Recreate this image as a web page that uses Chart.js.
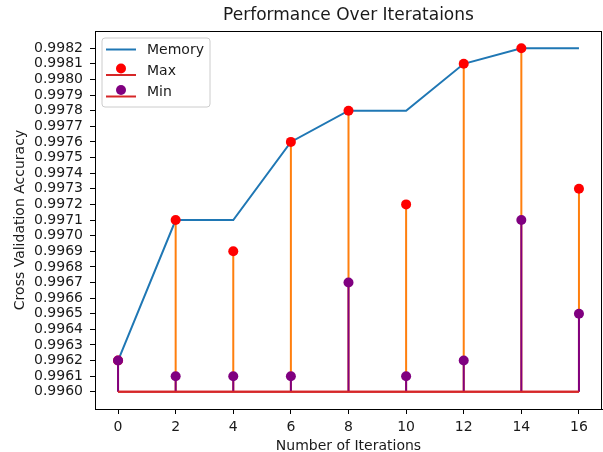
<!DOCTYPE html>
<html><head><meta charset="utf-8">
<script src="https://cdn.jsdelivr.net/npm/chart.js@4"></script>
<style>html,body{margin:0;padding:0;background:#fff;}#wrap{width:603px;height:452px;}</style>
</head><body><div id="wrap"><canvas id="c" width="603" height="452"></canvas></div>
<script>
const chartTitle = 'Performance Over Iterataions';
const xTitle = 'Number of Iterations';
const yTitle = 'Cross Validation Accuracy';
const iterations = [0, 2, 4, 6, 8, 10, 12, 14, 16];
const memory = [0.9962, 0.9971, 0.9971, 0.9976, 0.9978, 0.9978, 0.9981, 0.9982, 0.9982];
const maxAcc = [0.9962, 0.9971, 0.9969, 0.9976, 0.9978, 0.9972, 0.9981, 0.9982, 0.9973];
const minAcc = [0.9962, 0.9961, 0.9961, 0.9961, 0.9967, 0.9961, 0.9962, 0.9971, 0.9965];
const stemBase = 0.9960;
const xTicks = [0, 2, 4, 6, 8, 10, 12, 14, 16];
const yTickLabels = ['0.9960','0.9961','0.9962','0.9963','0.9964','0.9965','0.9966','0.9967','0.9968','0.9969','0.9970','0.9971','0.9972','0.9973','0.9974','0.9975','0.9976','0.9977','0.9978','0.9979','0.9980','0.9981','0.9982'];
const legendLabels = ['Memory', 'Max', 'Min'];

const FONT = 'DejaVu Sans';
const TXT = '#1a1a1a';
const C_BLUE = '#1f77b4', C_ORANGE = '#ff7f0e', C_BASE = '#d62728', C_RED = '#ff0000', C_PURPLE = '#800080';

function stemSegments(vals) {
  const out = [];
  iterations.forEach((x, i) => { out.push({x, y: stemBase}, {x, y: vals[i]}, {x, y: NaN}); });
  return out;
}
function points(vals) { return iterations.map((x, i) => ({x, y: vals[i]})); }
const baseline = [{x: iterations[0], y: stemBase}, {x: iterations[iterations.length - 1], y: stemBase}];

const lineDs = (label, data, color, width, order) => ({
  label, data, showLine: true, borderColor: color, borderWidth: width, pointRadius: 0,
  spanGaps: false, fill: false, order, tension: 0, borderCapStyle: 'butt'
});
const ptDs = (label, data, color, order) => ({
  label, data, showLine: false, pointRadius: 5, pointBackgroundColor: color, pointBorderColor: color,
  pointBorderWidth: 0, order, clip: false
});

const frameAndText = {
  id: 'frameAndText',
  afterDatasetsDraw(chart) {
    const ctx = chart.ctx, a = chart.chartArea;
    ctx.save();
    ctx.strokeStyle = '#000'; ctx.lineWidth = 1;
    ctx.beginPath();
    ctx.moveTo(a.left, a.top + 0.5); ctx.lineTo(a.right, a.top + 0.5);
    ctx.moveTo(a.right - 0.5, a.top); ctx.lineTo(a.right - 0.5, a.bottom);
    ctx.stroke();
    // title
    ctx.fillStyle = TXT;
    ctx.font = '17px "' + FONT + '"';
    ctx.textAlign = 'center'; ctx.textBaseline = 'middle';
    ctx.fillText(chartTitle, (a.left + a.right) / 2, 16);
    // legend
    const bx = 102, by = 38, bw = 108, bh = 69, r = 3;
    ctx.fillStyle = 'rgba(255,255,255,0.8)';
    ctx.strokeStyle = '#cccccc'; ctx.lineWidth = 1;
    ctx.beginPath();
    ctx.moveTo(bx + r, by); ctx.lineTo(bx + bw - r, by); ctx.arcTo(bx + bw, by, bx + bw, by + r, r);
    ctx.lineTo(bx + bw, by + bh - r); ctx.arcTo(bx + bw, by + bh, bx + bw - r, by + bh, r);
    ctx.lineTo(bx + r, by + bh); ctx.arcTo(bx, by + bh, bx, by + bh - r, r);
    ctx.lineTo(bx, by + r); ctx.arcTo(bx, by, bx + r, by, r); ctx.closePath();
    ctx.fill(); ctx.stroke();
    ctx.lineWidth = 2;
    ctx.strokeStyle = C_BLUE;
    ctx.beginPath(); ctx.moveTo(106, 49.5); ctx.lineTo(136, 49.5); ctx.stroke();
    ctx.strokeStyle = C_BASE;
    ctx.beginPath(); ctx.moveTo(106, 75); ctx.lineTo(136, 75); ctx.stroke();
    ctx.beginPath(); ctx.moveTo(106, 96.5); ctx.lineTo(136, 96.5); ctx.stroke();
    ctx.fillStyle = C_RED; ctx.beginPath(); ctx.arc(121, 68.5, 5, 0, Math.PI * 2); ctx.fill();
    ctx.fillStyle = C_PURPLE; ctx.beginPath(); ctx.arc(121, 90, 5, 0, Math.PI * 2); ctx.fill();
    ctx.fillStyle = TXT;
    ctx.font = '14px "' + FONT + '"';
    ctx.textAlign = 'left'; ctx.textBaseline = 'middle';
    ctx.fillText(legendLabels[0], 147, 50);
    ctx.fillText(legendLabels[1], 147, 71);
    ctx.fillText(legendLabels[2], 147, 92);
    ctx.restore();
  }
};

new Chart(document.getElementById('c'), {
  type: 'scatter',
  data: {
    datasets: [
      ptDs('Min markers', points(minAcc), C_PURPLE, 1),
      lineDs('Min baseline', baseline, C_BASE, 2, 2),
      lineDs('Min stems', stemSegments(minAcc), C_PURPLE, 2, 3),
      ptDs('Max markers', points(maxAcc), C_RED, 4),
      lineDs('Max baseline', baseline, C_BASE, 2, 5),
      lineDs('Max stems', stemSegments(maxAcc), C_ORANGE, 2, 6),
      lineDs('Memory', points(memory), C_BLUE, 2, 7)
    ]
  },
  options: {
    responsive: false, devicePixelRatio: 1, animation: false,
    layout: { autoPadding: false, padding: { top: 31, right: 1, left: 0, bottom: 0 } },
    plugins: { legend: { display: false }, tooltip: { enabled: false }, title: { display: false } },
    scales: {
      x: {
        type: 'linear', min: -0.8, max: 16.8,
        afterBuildTicks: s => { s.ticks = xTicks.map(v => ({value: v})); },
        afterFit: s => { s.height = 43; s.paddingLeft = 0; s.paddingRight = 0; },
        ticks: { color: TXT, font: { family: FONT, size: 14 }, padding: 5, maxRotation: 0, autoSkip: false,
                 callback: v => String(v) },
        grid: { drawOnChartArea: false, tickLength: 5, tickColor: '#000', tickWidth: 1 },
        border: { display: true, color: '#000', width: 1 },
        title: { display: true, text: xTitle, color: TXT, font: { family: FONT, size: 14 }, padding: { top: 0, bottom: -3 } }
      },
      y: {
        type: 'linear', min: 0.99589, max: 0.99831,
        afterBuildTicks: s => { s.ticks = yTickLabels.map(t => ({value: parseFloat(t)})); },
        afterFit: s => { s.width = 95; s.paddingTop = 0; s.paddingBottom = 0; },
        ticks: { color: TXT, font: { family: FONT, size: 14 }, padding: 7, autoSkip: false,
                 callback: v => Number(v).toFixed(4) },
        grid: { drawOnChartArea: false, tickLength: 5, tickColor: '#000', tickWidth: 1 },
        border: { display: true, color: '#000', width: 1 },
        title: { display: true, text: yTitle, color: TXT, font: { family: FONT, size: 14 }, padding: { top: 12, bottom: 0 } }
      }
    }
  },
  plugins: [frameAndText]
});
</script>
</body></html>
